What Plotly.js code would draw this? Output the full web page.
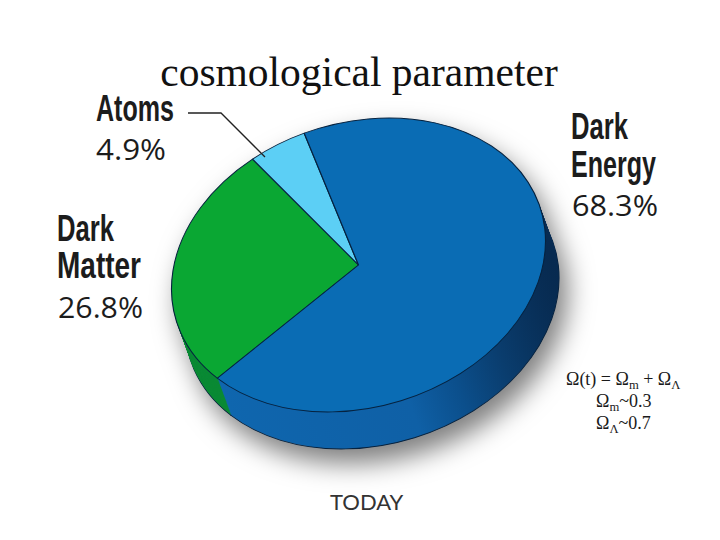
<!DOCTYPE html>
<html>
<head>
<meta charset="utf-8">
<script src="https://cdn.plot.ly/plotly-3.0.1.min.js"></script>
<style>html,body{margin:0;padding:0;background:#fff}#c{width:720px;height:540px}</style>
</head>
<body>
<div id="c"></div>
<script>
const sliceNames = ['Dark Matter', 'Atoms', 'Dark Energy'];
const sliceValues = [26.8, 4.9, 68.3];
const topColors = ['#0aa733', '#5ccff5', '#0a6cb4'];
const sideColors = ['#0b8a35', '#3aa0d0', '#0f64ab'];
const titleText = 'cosmological parameter';
const captionText = 'TODAY';
const nameLabels = [
  ['Atoms', 96, 109, 78], ['Dark', 57, 228, 57], ['Matter', 57, 265, 84], ['Dark', 571, 126, 57], ['Energy', 571, 164, 85]
];
const valueLabels = [
  ['4.9%', 96, 148, 70], ['26.8%', 58, 306, 85], ['68.3%', 572, 204, 86]
];
const formulaLabels = [
  ['Ω(t) = Ω<sub>m</sub> + Ω<sub>Λ</sub>', 623, 380],
  ['Ω<sub>m</sub>~0.3', 623, 402],
  ['Ω<sub>Λ</sub>~0.7', 623, 424]
];
const W = 720, H = 540, layers = 36, depthX = 13.5, depthY = 37;
const px = x => x / W, py = y => 1 - y / H;

const traces = [];
for (let k = layers; k >= 0; k--) {
  const isTop = k === 0, isBottom = k === layers;
  traces.push({
    type: 'pie', values: sliceValues, labels: sliceNames, sort: false, direction: 'clockwise',
    rotation: -131, textinfo: 'none', hoverinfo: 'skip', showlegend: false,
    domain: {x: [0, 1], y: [0, 1]},
    marker: {
      colors: isTop ? topColors : sideColors,
      line: {color: (isTop || isBottom) ? '#06223f' : 'rgba(0,0,0,0)', width: (isTop || isBottom) ? 1.6 : 0}
    }
  });
}

const ann = (t, x, y, font, anchor) => ({
  text: t, xref: 'paper', yref: 'paper', x: px(x), y: py(y),
  xanchor: anchor, yanchor: 'middle', showarrow: false, font: font, borderpad: 0
});
const annotations = [
  ...nameLabels.map(l => ann('<b>' + l[0] + '</b>', l[1], l[2],
    {family: '"Liberation Sans"', size: 36, color: '#1c1c1c'}, 'left')),
  ...valueLabels.map(l => ann(l[0], l[1], l[2],
    {family: '"Open Sans"', size: 30, color: '#1c1c1c'}, 'left')),
  ...formulaLabels.map(l => ann(l[0], l[1], l[2],
    {family: '"Liberation Serif"', size: 18, color: '#1a1a1a'}, 'center')),
  ann(captionText, 367, 501, {family: 'Lato', size: 22, color: '#333'}, 'center')
];

const layout = {
  width: W, height: H, margin: {l: 0, r: 0, t: 0, b: 0},
  paper_bgcolor: '#fff', plot_bgcolor: '#fff',
  title: {text: titleText, x: px(359), xref: 'paper', xanchor: 'center', y: py(71), yref: 'paper', yanchor: 'middle',
    font: {family: '"Liberation Serif"', size: 41.5, color: '#111'}},
  annotations: annotations,
  shapes: [{type: 'path', xref: 'paper', yref: 'paper', layer: 'above',
    path: `M${px(188)},${py(113)} L${px(221)},${py(113)} L${px(265)},${py(157)}`,
    line: {color: '#222', width: 1.3}}]
};

Plotly.newPlot('c', traces, layout, {staticPlot: true, displayModeBar: false}).then(() => {
  const svg = document.querySelector('#c .main-svg');
  const ns = 'http://www.w3.org/2000/svg';
  const defs = document.createElementNS(ns, 'defs');
  defs.innerHTML = '<linearGradient id="sideGrad" x1="0" y1="0" x2="1" y2="0">' +
    '<stop offset="0" stop-color="#0f66ae"/><stop offset="0.58" stop-color="#0f60a6"/>' +
    '<stop offset="0.72" stop-color="#0b4f8c"/><stop offset="0.85" stop-color="#0a3d6e"/>' +
    '<stop offset="1" stop-color="#072a50"/></linearGradient>';
  svg.appendChild(defs);
  const layer = document.querySelector('#c .pielayer');
  layer.style.filter = 'drop-shadow(8px 14px 13px rgba(0,0,0,0.5))';
  const groups = layer.querySelectorAll('.trace');
  const a = 187 / 270, b = -24 / 270, d = 145 / 270;
  groups.forEach((g, i) => {
    const k = layers - i;
    const cx = 358.5 + depthX * k / layers, cy = 265 + depthY * k / layers;
    const e = cx - a * 360, f = cy - b * 360 - d * 270;
    g.setAttribute('transform', `matrix(${a},${b},0,${d},${e},${f})`);
    if (k > 0) {
      const paths = g.querySelectorAll('.slice path.surface');
      if (paths[2]) paths[2].style.fill = 'url(#sideGrad)';
    }
  });
  // condensed lettering of the slice labels, kept on their left edge
  const labels = [...nameLabels, ...valueLabels];
  const host = document.querySelector('#c').getBoundingClientRect();
  document.querySelectorAll('#c .annotation-text').forEach((t, i) => {
    if (i < labels.length) {
      t.setAttribute('textLength', labels[i][3]);
      t.setAttribute('lengthAdjust', 'spacingAndGlyphs');
      t.setAttribute('text-anchor', 'start');
      const left = t.getBoundingClientRect().left - host.left;
      const x0 = parseFloat(t.getAttribute('x')) || 0;
      t.setAttribute('x', x0 + labels[i][1] - left);
    }
  });
});
</script>
</body>
</html>
